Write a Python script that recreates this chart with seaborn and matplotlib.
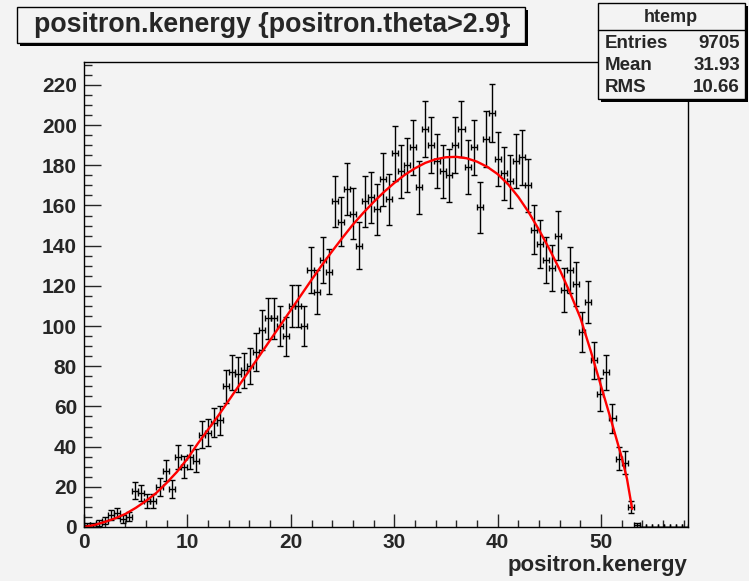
import numpy as np
import matplotlib
matplotlib.use("Agg")
import matplotlib.pyplot as plt
from matplotlib.patches import Rectangle
from matplotlib.ticker import MultipleLocator
import seaborn as sns

# --- histogram htemp: 100 bins over the x range ---
x_lo, x_hi, n_bins = 0.0, 58.4, 100
counts = [1, 1, 2, 3, 6, 7, 4, 5, 18, 17,
          13, 13, 20, 28, 19, 35, 30, 35, 33, 46,
          47, 52, 53, 70, 77, 76, 78, 80, 87, 98,
          104, 104, 100, 95, 110, 110, 100, 128, 117, 133,
          127, 162, 152, 168, 156, 140, 162, 164, 158, 173,
          163, 186, 177, 180, 189, 169, 198, 190, 182, 177,
          175, 190, 198, 179, 189, 159, 193, 206, 183, 176,
          172, 182, 184, 170, 148, 141, 133, 129, 145, 118,
          128, 121, 97, 112, 83, 66, 77, 54, 34, 32,
          10, 1, 0, 0, 0, 0, 0, 0, 0, 0]

# fitted curve
fit_x = [0, 1, 2, 3, 4, 5, 6, 7, 8, 9, 10, 11, 12, 13, 14, 15, 16, 17, 18,
         19, 20, 21, 22, 23, 24, 25, 26, 27, 28, 29, 30, 31, 32, 33, 34, 35,
         36, 37, 38, 39, 40, 41, 42, 43, 44, 45, 46, 47, 48, 49, 50, 51, 52,
         52.5, 53]
fit_y = [0, 1, 2.5, 4.3, 6.5, 9.5, 13, 17, 22, 27.5, 34, 41.5, 48.5, 55.5,
         63, 70.5, 78, 85.5, 93, 100.5, 108, 115.5, 123, 130.3, 137.3, 144,
         150.5, 156.3, 161.7, 166.7, 171.2, 175.2, 178.5, 181.2, 183, 184,
         184.2, 183.5, 181.8, 179.2, 175.6, 170.6, 164.2, 156.6, 147.8,
         138.3, 128, 116.5, 104, 87.5, 70, 52.5, 34.5, 24, 9]

title = "positron.kenergy {positron.theta>2.9}"
x_label = "positron.kenergy"
stats_name = "htemp"
stats_keys = ["Entries", "Mean", "RMS"]
stats_vals = ["9705", "31.93", "10.66"]

W, H = 749, 581
bg = "#f3f3f3"

sns.set_style("ticks")
plt.rcParams["font.family"] = ["Liberation Sans", "DejaVu Sans"]
plt.rcParams["font.weight"] = "bold"

fig = plt.figure(figsize=(W / 100, H / 100), dpi=100, facecolor=bg)
ax = fig.add_axes([84 / W, 1 - 527 / H, (688 - 84) / W, (527 - 62) / H])
ax.set_facecolor(bg)

edges = np.linspace(x_lo, x_hi, n_bins + 1)
centers = 0.5 * (edges[:-1] + edges[1:])
half_w = 0.5 * (edges[1] - edges[0])
y = np.array(counts, dtype=float)

ax.errorbar(centers, y, yerr=np.sqrt(y), xerr=half_w, fmt="none",
            ecolor="black", elinewidth=1.0, capsize=2.2, capthick=1.0)
sns.lineplot(x=fit_x, y=fit_y, color="red", linewidth=1.7, ax=ax)

ax.set_xlim(x_lo, x_hi)
ax.set_ylim(0, 231.4)
ax.xaxis.set_major_locator(MultipleLocator(10))
ax.xaxis.set_minor_locator(MultipleLocator(2))
ax.yaxis.set_major_locator(MultipleLocator(20))
ax.yaxis.set_minor_locator(MultipleLocator(5))
ax.tick_params(axis="x", which="major", direction="in", length=9.5, width=1,
               labelsize=15, pad=4, top=False)
ax.tick_params(axis="x", which="minor", direction="in", length=5, width=1, top=False)
ax.tick_params(axis="y", which="major", direction="in", length=12, width=1,
               labelsize=15, pad=5, right=False)
ax.tick_params(axis="y", which="minor", direction="in", length=6, width=1, right=False)
for s in ax.spines.values():
    s.set_color("black")
    s.set_linewidth(1)
ax.set_xlabel("")
ax.set_ylabel("")

fig.text(687 / W, 1 - 565 / H, x_label, ha="right", va="center", fontsize=16,
         fontweight="bold")


def box(x0, y0, x1, y1, shadow=3):
    # ROOT-like pave with a dark drop shadow, pixel coords from top-left
    fig.add_artist(Rectangle(((x0 + shadow) / W, 1 - (y1 + shadow) / H),
                             (x1 - x0) / W, (y1 - y0) / H,
                             transform=fig.transFigure, facecolor="black",
                             edgecolor="black", lw=0, zorder=5))
    fig.add_artist(Rectangle((x0 / W, 1 - y1 / H), (x1 - x0) / W, (y1 - y0) / H,
                             transform=fig.transFigure, facecolor=bg,
                             edgecolor="black", lw=1, zorder=6))


# title pave
box(17, 7, 525, 43)
fig.text(272 / W, 1 - 25 / H, title, ha="center", va="center", fontsize=19.3,
         fontweight="bold", zorder=7)

# stats pave
box(598, 3, 745, 99)
fig.add_artist(plt.Line2D([598 / W, 745 / W], [1 - 30 / H, 1 - 30 / H],
                          transform=fig.transFigure, color="black", lw=1, zorder=7))
fig.text(671 / W, 1 - 17 / H, stats_name, ha="center", va="center", fontsize=13,
         fontweight="bold", zorder=7)
for k, (key, val) in enumerate(zip(stats_keys, stats_vals)):
    yy = 1 - (43 + 22 * k) / H
    fig.text(605 / W, yy, key, ha="left", va="center", fontsize=13.5,
             fontweight="bold", zorder=7)
    fig.text(740 / W, yy, val, ha="right", va="center", fontsize=13.5,
             fontweight="bold", zorder=7)

fig.savefig("out.png", dpi=100, facecolor=bg)
